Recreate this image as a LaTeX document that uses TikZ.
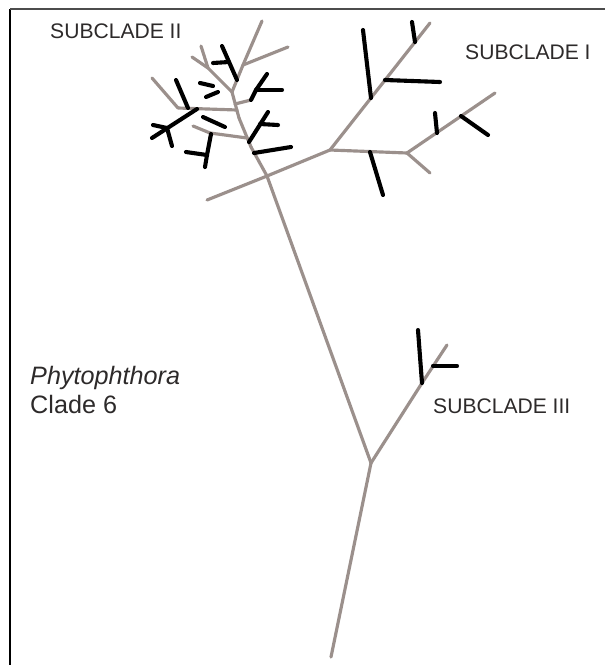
\documentclass[tikz,border=0pt]{standalone}
\usepackage{fontspec}
\setmainfont{Liberation Sans}
\definecolor{branchgray}{RGB}{155,144,140}
\definecolor{textgray}{RGB}{45,42,42}
\tikzset{
	branch/.style={draw=branchgray, line width=2.7pt, line cap=round},
	tipline/.style={draw=black, line width=3.5pt, line cap=round},
	cladetext/.style={anchor=base west, inner sep=0pt, text=textgray, font=\fontsize{18}{21}\selectfont},
	genustext/.style={anchor=base west, inner sep=0pt, text=textgray, font=\fontsize{21.5}{25}\selectfont}
}
\begin{document}
\begin{tikzpicture}[x=0.03cm, y=-0.03cm]
	\useasboundingbox (0,0) rectangle (605,665);
	\coordinate (fa) at (10,665); \coordinate (fb) at (10,9); \coordinate (fc) at (605,9);
	\draw [black, line width=1.8pt] (fa) -- (fb);
	\draw [black!70, line width=1.8pt] (fb) -- (fc);
	\foreach \n/\x/\y in {root/331/657, n1/371/463, n2/267/176, c3/422/383, c3t/447/345, c3k/433/366, c3b/418/330, c3h/457/366,
		ll/207/200, a/330/150, atip/430/23, a1/371/98, a1t/363/30, a2/385/80, a2t/440/82, a3/415/42, a3t/412/22,
		b/407/153, bt/495/93, bd/430/173, ab/370/152, abt/383/195, b1/437/133, b1t/435/113, b2/461/116, b2t/488/135,
		q1/251/147, q2/239/118, q3/232/92, q4/243/65, qt/262/21, qr/288/47, g1/208/68, g1a/201/46, g1b/192/57,
		l0/237/110, l1/178/108, lt/152/78, g3/247/138, g3a/210/133, g3t/193/126, s1/235/104, s1k/251/100,
		ka/237/80, kat/222/46, kc/229/62, kct/213/63, kf/256/90, kft1/267/74, kft2/282/90,
		kd0/249/142, kd/268/112, kd1/260/124, kd1t/278/125, ke/254/153, ket/291/147,
		le/188/108, let/176/80, lg/197/109, lgt/152/138, lg2/167/128, lg2a/153/125, lg2b/172/146,
		mi/211/134, mi2/207/155, mit/205/167, mia/186/152, mh/203/117, mht/225/127,
		f1/200/83, f1t/213/86, f2/206/97, f2t/218/92}
		\coordinate (\n) at (\x,\y);
	\foreach \p/\q in {root/n1, n1/n2, n1/c3, c3/c3t, n2/ll, n2/a, a/atip, a/b, b/bt, b/bd,
		n2/q1, q1/q2, q2/q3, q3/q4, q4/qt, q4/qr, q3/g1, g1/g1a, g1/g1b, l0/l1, l1/lt, g3/g3a, g3a/g3t, s1/s1k}
		\path [branch] (\p) -- (\q);
	\foreach \p/\q in {c3k/c3h, c3/c3b, a1/a1t, a2/a2t, a3/a3t, ab/abt, b1/b1t, b2/b2t,
		ka/kat, kc/kct, s1k/kf, kf/kft1, kf/kft2, kd0/kd, kd1/kd1t, ke/ket, le/let, lg/lgt, lg2/lg2a, lg2/lg2b,
		mi/mi2, mi2/mit, mi2/mia, mh/mht, f1/f1t, f2/f2t}
		\path [tipline] (\p) -- (\q);
	\node [cladetext] (sub2) at (50,38) {SUBCLADE II};
	\node [cladetext] (sub1) at (465,59) {SUBCLADE I};
	\node [cladetext] (sub3) at (433,413) {SUBCLADE III};
	\node [genustext] (genus) at (30,384) {\textit{Phytophthora}};
	\node [genustext] (clade) at (30,413) {Clade 6};
\end{tikzpicture}
\end{document}
